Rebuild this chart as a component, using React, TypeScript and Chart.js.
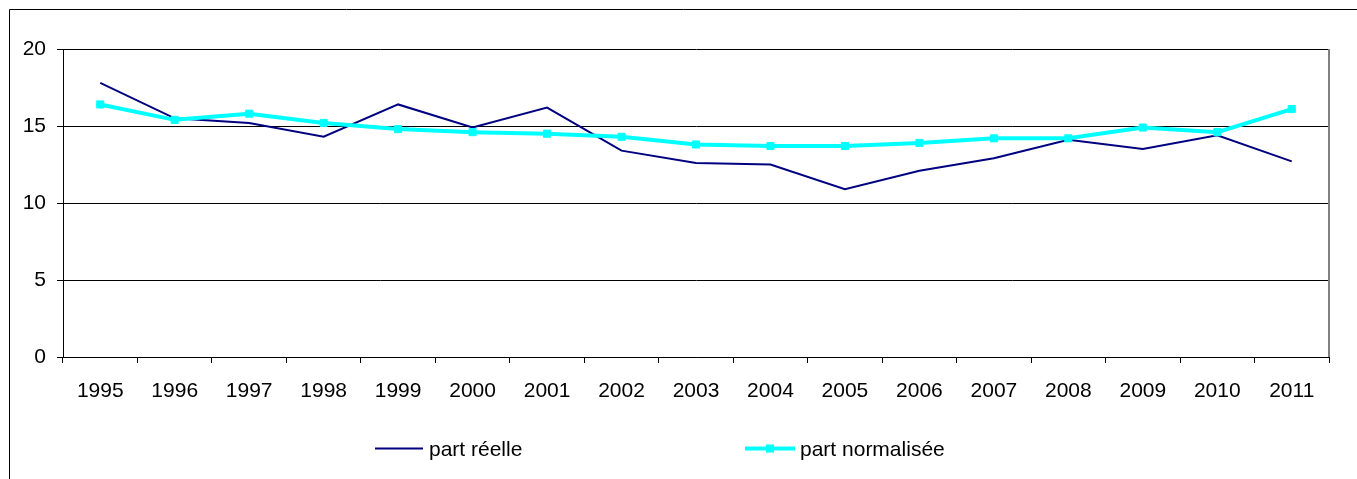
import React, { useEffect, useRef } from "react";
import { Chart, registerables } from "chart.js";

Chart.register(...registerables);

const categories = ["1995", "1996", "1997", "1998", "1999", "2000", "2001", "2002", "2003", "2004", "2005", "2006", "2007", "2008", "2009", "2010", "2011"];
const partReelle = [17.8, 15.5, 15.2, 14.3, 16.4, 14.9, 16.2, 13.4, 12.6, 12.5, 10.9, 12.1, 12.9, 14.1, 13.5, 14.4, 12.7];
const partNormalisee = [16.4, 15.4, 15.8, 15.2, 14.8, 14.6, 14.5, 14.3, 13.8, 13.7, 13.7, 13.9, 14.2, 14.2, 14.9, 14.6, 16.1];
const seriesLabels = ["part réelle", "part normalisée"];
const yTicks = [0, 5, 10, 15, 20];

const NAVY = "#000080";
const CYAN = "#00FFFF";
const FONT = "'Liberation Sans', Arial, sans-serif";

const framePlugin = {
  id: "frame",
  afterDraw(chart: any) {
    const { ctx, chartArea, width, height } = chart;
    ctx.save();
    // outer frame (left and top)
    ctx.strokeStyle = "#000";
    ctx.lineWidth = 1;
    ctx.beginPath();
    ctx.moveTo(9.5, height);
    ctx.lineTo(9.5, 9.5);
    ctx.lineTo(width, 9.5);
    ctx.stroke();
    // right border of plot area
    ctx.strokeStyle = "#808080";
    ctx.lineWidth = 2;
    ctx.beginPath();
    ctx.moveTo(chartArea.right, chartArea.top);
    ctx.lineTo(chartArea.right, chartArea.bottom);
    ctx.stroke();
    // custom legend
    const ds = chart.data.datasets;
    const y = 448.5;
    ctx.font = `21px ${FONT}`;
    ctx.fillStyle = "#000";
    ctx.textBaseline = "alphabetic";
    // series 1
    ctx.strokeStyle = ds[0].borderColor;
    ctx.lineWidth = 2;
    ctx.beginPath();
    ctx.moveTo(375, y);
    ctx.lineTo(423, y);
    ctx.stroke();
    ctx.fillText(ds[0].label, 429, 456);
    // series 2
    ctx.strokeStyle = ds[1].borderColor;
    ctx.lineWidth = 4;
    ctx.beginPath();
    ctx.moveTo(745, y);
    ctx.lineTo(795, y);
    ctx.stroke();
    ctx.fillStyle = ds[1].borderColor;
    ctx.fillRect(766, y - 4, 8, 8);
    ctx.fillStyle = "#000";
    ctx.fillText(ds[1].label, 800, 456);
    ctx.restore();
  },
};

export default function App() {
  const ref = useRef<HTMLCanvasElement | null>(null);
  useEffect(() => {
    if (!ref.current) return;
    const chart = new Chart(ref.current, {
      type: "line",
      data: {
        labels: categories,
        datasets: [
          {
            label: seriesLabels[0],
            data: partReelle,
            borderColor: NAVY,
            backgroundColor: NAVY,
            borderWidth: 2,
            pointRadius: 0,
            tension: 0,
            order: 1,
          },
          {
            label: seriesLabels[1],
            data: partNormalisee,
            borderColor: CYAN,
            backgroundColor: CYAN,
            borderWidth: 4,
            pointStyle: "rect",
            pointRadius: 5,
            pointBorderWidth: 1,
            pointBackgroundColor: CYAN,
            pointBorderColor: CYAN,
            tension: 0,
            order: 0,
          },
        ],
      },
      options: {
        animation: false,
        responsive: false,
        layout: { padding: { top: 49, right: 28, bottom: 0, left: 0 } },
        plugins: { legend: { display: false }, tooltip: { enabled: false } },
        scales: {
          x: {
            offset: true,
            grid: { offset: true, drawOnChartArea: false, drawTicks: true, tickLength: 6, color: "#000" },
            border: { display: true, color: "#000", width: 1 },
            ticks: { font: { family: FONT, size: 21 }, color: "#000", padding: 16, maxRotation: 0, autoSkip: false },
            afterFit: (s: any) => { s.height = 122; },
          },
          y: {
            min: 0,
            max: 20,
            afterBuildTicks: (s: any) => { s.ticks = yTicks.map((v) => ({ value: v })); },
            grid: { color: "#000", drawTicks: true, tickLength: 6 },
            border: { display: true, color: "#000", width: 1 },
            ticks: { font: { family: FONT, size: 21 }, color: "#000", padding: 11 },
            afterFit: (s: any) => { s.width = 63; },
          },
        },
      },
      plugins: [framePlugin],
    });
    return () => chart.destroy();
  }, []);
  return (
    <div style={{ position: "fixed", left: 0, top: 0, width: 1357, height: 479, background: "#fff" }}>
      <canvas ref={ref} width={1357} height={479} style={{ width: 1357, height: 479, display: "block" }} />
    </div>
  );
}
